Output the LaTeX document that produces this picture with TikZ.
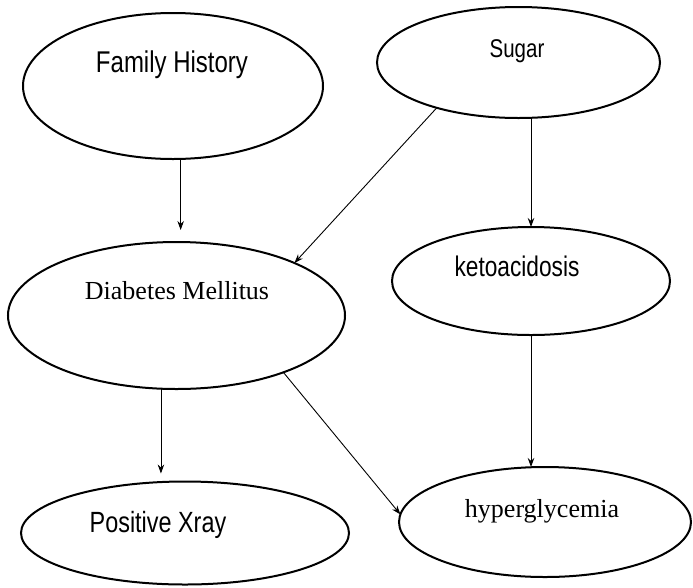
\documentclass[tikz,border=0pt]{standalone}
\usepackage{graphicx}
\usepackage{fontspec}
\setmainfont{Liberation Serif}
\setsansfont{Liberation Sans}
\usetikzlibrary{shapes.geometric,arrows.meta}

\newcommand{\tallsans}[1]{\scalebox{1}[1.25]{#1}}

\tikzset{
  bubble/.style={draw,ellipse,line width=2pt,inner sep=0pt,outer sep=0pt},
  sanslbl/.style={anchor=base,font=\sffamily\fontsize{#1}{#1}\selectfont},
  sanslbl/.default=23,
  seriflbl/.style={anchor=base,font=\fontsize{26}{30}\selectfont},
  link/.style={-{Stealth[length=9pt,width=6.5pt]},line width=0.9pt}
}

\begin{document}
\begin{tikzpicture}[x=1pt,y=-1pt]
      \useasboundingbox (0,0) rectangle (693,587);

      \node [bubble,minimum width=300pt,minimum height=146pt] (fh) at (173,86) {};
      \node [bubble,minimum width=283pt,minimum height=111pt] (sugar) at (518.5,62.5) {};
      \node [bubble,minimum width=337pt,minimum height=147pt] (dm) at (176.5,315.5) {};
      \node [bubble,minimum width=278pt,minimum height=108pt] (keto) at (531,281) {};
      \node [bubble,minimum width=328pt,minimum height=103pt] (xray) at (185,533) {};
      \node [bubble,minimum width=292pt,minimum height=110pt] (hyper) at (545,522) {};

      \node [sanslbl=24] (fh-text) at (172,72) {\tallsans{Family History}};
      \node [sanslbl=20.5] (sugar-text) at (517,57) {\tallsans{Sugar}};
      \node [seriflbl] (dm-text) at (177,299) {Diabetes Mellitus};
      \node [sanslbl=22.7] (keto-text) at (517,276) {\tallsans{ketoacidosis}};
      \node [sanslbl=23.4] (xray-text) at (158,532) {\tallsans{Positive Xray}};
      \node [seriflbl] (hyper-text) at (542,517) {hyperglycemia};

      \draw [link,shorten >=12pt] (fh.276) -- (fh.276 |- dm.north);
      \draw [link] (sugar.209.6) -- (dm.24.7);
      \draw [link] (keto.north |- sugar.south) -- (keto.north);
      \draw [link] (keto.south) -- (keto.south |- hyper.north);
      \draw [link,shorten >=8pt] (dm.258) -- (dm.258 |- xray.north);
      \draw [link] (dm.332) -- (hyper.177);

\end{tikzpicture}
\end{document}
